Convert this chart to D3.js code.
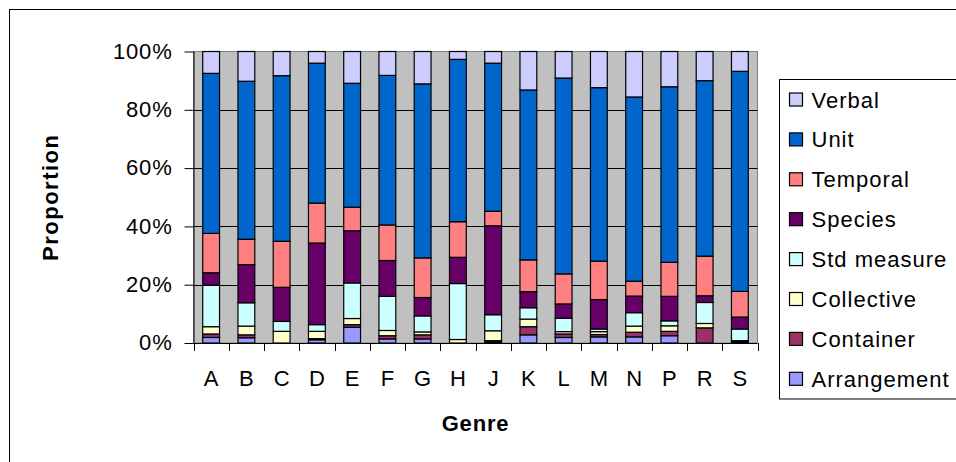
<!DOCTYPE html>
<html><head><meta charset="utf-8">
<script src="https://cdn.jsdelivr.net/npm/d3@7"></script>
<style>html,body{margin:0;padding:0;background:#fff;overflow:hidden}svg{display:block}</style>
</head><body>
<svg id="c" width="956" height="462"></svg>
<script>
const genres = ["A","B","C","D","E","F","G","H","J","K","L","M","N","P","R","S"];
const seriesNames = ["Arrangement","Container","Collective","Std measure","Species","Temporal","Unit","Verbal"];
const arrangement = [1.9,1.8,0,1.1,5.4,1.4,1.4,0,0.3,2.8,1.9,2.1,2.1,2.5,0,0.4];
const container   = [1.2,1.0,0,0.4,0.9,1.1,1.4,0,0.5,2.8,1.2,0.8,1.6,1.5,5.2,0.4];
const collective  = [2.5,3.0,4.0,2.5,2.1,1.8,1.0,1.2,3.4,2.6,0.8,1.0,2.1,1.9,1.5,0];
const stdMeasure  = [14.2,8.0,3.4,2.3,12.2,11.7,5.5,19.2,5.5,3.9,4.6,0.9,4.6,1.7,7.2,4.0];
const species     = [4.3,13.1,11.7,28.0,17.9,12.3,6.3,9.0,30.5,5.5,4.9,10.1,5.7,8.4,2.3,4.1];
const temporal    = [13.5,8.7,15.8,13.7,8.1,12.2,13.6,12.2,5.0,10.9,10.3,13.2,5.1,11.7,13.6,8.8];
const unit        = [54.9,54.2,56.8,48.0,42.5,51.3,59.7,55.7,50.8,58.3,67.2,59.5,63.2,60.2,60.2,75.5];
const verbal      = [7.5,10.2,8.3,4.0,10.9,8.2,11.1,2.7,4.0,13.2,9.1,12.4,15.6,12.1,10.0,6.8];
const yTicks = [0,0.2,0.4,0.6,0.8,1.0];
const legendOrder = ["Verbal","Unit","Temporal","Species","Std measure","Collective","Container","Arrangement"];

const colors = {"Arrangement":"#9999FF","Container":"#993366","Collective":"#FFFFCC","Std measure":"#CCFFFF",
  "Species":"#660066","Temporal":"#FF8080","Unit":"#0066CC","Verbal":"#CCCCFF"};
const seriesValues = [arrangement,container,collective,stdMeasure,species,temporal,unit,verbal];

const table = genres.map((g,i)=>{const o={genre:g}; seriesNames.forEach((s,j)=>o[s]=seriesValues[j][i]); return o;});
const stack = d3.stack().keys(seriesNames).offset(d3.stackOffsetExpand)(table);

const svg = d3.select("#c");
const font = "'Liberation Sans', Arial, sans-serif";
const L=193.5, R=757.5, T=51.5, B=343;

svg.append("rect").attr("x",9.5).attr("y",9.5).attr("width",970).attr("height",480)
  .attr("fill","#fff").attr("stroke","#000").attr("stroke-width",1);

const x = d3.scaleBand().domain(genres).range([L,R]).paddingInner(0.523).paddingOuter(0.2615);
const y = d3.scaleLinear().domain([0,1]).range([B,T]);

svg.append("rect").attr("x",L).attr("y",T).attr("width",R-L).attr("height",B-T)
  .attr("fill","#C0C0C0").attr("stroke","#808080").attr("stroke-width",1);

svg.append("g").selectAll("line").data(yTicks.filter(t=>t>0&&t<1)).join("line")
  .attr("x1",L).attr("x2",R).attr("y1",d=>Math.round(y(d))+0.5).attr("y2",d=>Math.round(y(d))+0.5)
  .attr("stroke","#000").attr("stroke-width",1);

svg.append("g").selectAll("g").data(stack).join("g").attr("fill",d=>colors[d.key])
  .selectAll("rect").data(d=>d).join("rect")
  .attr("x",d=>x(d.data.genre)).attr("width",x.bandwidth())
  .attr("y",d=>y(d[1])).attr("height",d=>y(d[0])-y(d[1]))
  .attr("stroke","#000").attr("stroke-width",1.2);

// y axis
const yAxis = d3.axisLeft(y).tickValues(yTicks).tickFormat(d3.format(".0%")).tickSize(9).tickPadding(12);
const gy = svg.append("g").attr("transform",`translate(${L},0)`).call(yAxis);
gy.select(".domain").attr("stroke","#000").attr("d",`M0.5,${T}V${B}`);
gy.selectAll(".tick line").attr("stroke","#000");
gy.selectAll("text").attr("font-family",font).attr("font-size",22).attr("fill","#000").attr("letter-spacing","0.8px").attr("dy","0.3em");

// x axis
const xAxis = d3.axisBottom(x).tickSize(0).tickPadding(27);
const gx = svg.append("g").attr("transform",`translate(0,${B})`).call(xAxis);
gx.select(".domain").attr("stroke","#000").attr("d",`M${L},0.5H${R}`);
gx.selectAll("text").attr("font-family",font).attr("font-size",22).attr("fill","#000");
const step = x.step();
const bounds = d3.range(genres.length+1).map(i=>L+x.paddingOuter()*0+i*(R-L)/genres.length);
gx.append("g").selectAll("line").data(bounds).join("line")
  .attr("x1",d=>Math.round(d)+0.5).attr("x2",d=>Math.round(d)+0.5).attr("y1",0).attr("y2",8).attr("stroke","#000");

// titles
svg.append("text").attr("x",(L+R)/2).attr("y",431).attr("text-anchor","middle")
  .attr("font-family",font).attr("font-weight","bold").attr("font-size",22).attr("letter-spacing","0.8px").text("Genre");
svg.append("text").attr("transform",`translate(58,${(T+B)/2}) rotate(-90)`).attr("text-anchor","middle")
  .attr("font-family",font).attr("font-weight","bold").attr("font-size",22).attr("letter-spacing","1.5px").text("Proportion");

// legend
const lg = svg.append("g");
lg.append("rect").attr("x",779.5).attr("y",79.5).attr("width",220).attr("height",319.5)
  .attr("fill","#fff").attr("stroke","#000").attr("stroke-width",1);
const items = lg.selectAll("g.item").data(legendOrder).join("g").attr("class","item")
  .attr("transform",(d,i)=>`translate(0,${99.5+i*39.9})`);
items.append("rect").attr("x",789.5).attr("y",-6.5).attr("width",13).attr("height",13)
  .attr("fill",d=>colors[d]).attr("stroke","#000").attr("stroke-width",1.2);
items.append("text").attr("x",811.5).attr("y",8).attr("font-family",font).attr("font-size",22)
  .attr("letter-spacing","1px").text(d=>d);
</script>
</body></html>
